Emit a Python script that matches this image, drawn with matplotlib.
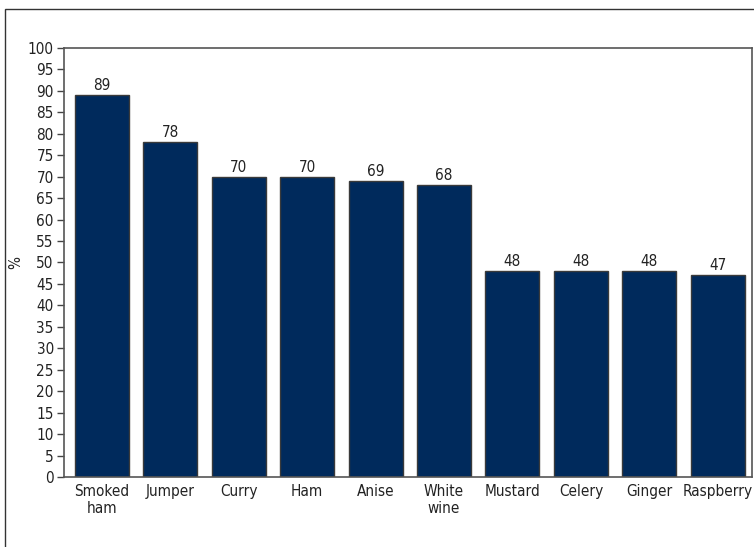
import matplotlib
matplotlib.use("Agg")
import matplotlib.pyplot as plt
from matplotlib.patches import Rectangle

categories = ["Smoked\nham", "Jumper", "Curry", "Ham", "Anise", "White\nwine",
              "Mustard", "Celery", "Ginger", "Raspberry"]
values = [89, 78, 70, 70, 69, 68, 48, 48, 48, 47]
yticks = list(range(0, 101, 5))

plt.rcParams['font.family'] = ['DejaVu Sans']
plt.rcParams['font.stretch'] = 'condensed'

W, H = 754, 547
fig = plt.figure(figsize=(W/100, H/100), dpi=100)
ax = fig.add_axes([63.5/W, 1-477/H, (752-63.5)/W, (477-48)/H])

x = list(range(len(categories)))
bars = ax.bar(x, values, width=0.79, color="#002a5c", edgecolor="#3a3a3a", linewidth=1.0)
for xi, v in zip(x, values):
    ax.text(xi, v + 0.5, str(v), ha="center", va="bottom", fontsize=11, color="#222222")

ax.set_xlim(-0.56, 9.5)
ax.set_ylim(0, 100)
ax.set_yticks(yticks)
ax.set_yticklabels([str(t) for t in yticks], fontsize=11, color="#222222")
ax.set_xticks(x)
ax.set_xticklabels(categories, fontsize=11, color="#222222", linespacing=1.15)
ax.tick_params(axis="x", length=0, pad=5)
ax.tick_params(axis="y", length=5, width=1, color="#444444", pad=2, direction="out")
for s in ["top", "right", "left", "bottom"]:
    ax.spines[s].set_color("#555555")
    ax.spines[s].set_linewidth(1.2)
ax.set_ylabel("%", fontsize=11, color="#222222", labelpad=3)

fig.patches.append(Rectangle((5/W, -0.1), 1.2, 1 - 9/H + 0.1, transform=fig.transFigure,
                             fill=False, edgecolor="#333333", linewidth=1.0))

fig.savefig("out.png", dpi=100)
